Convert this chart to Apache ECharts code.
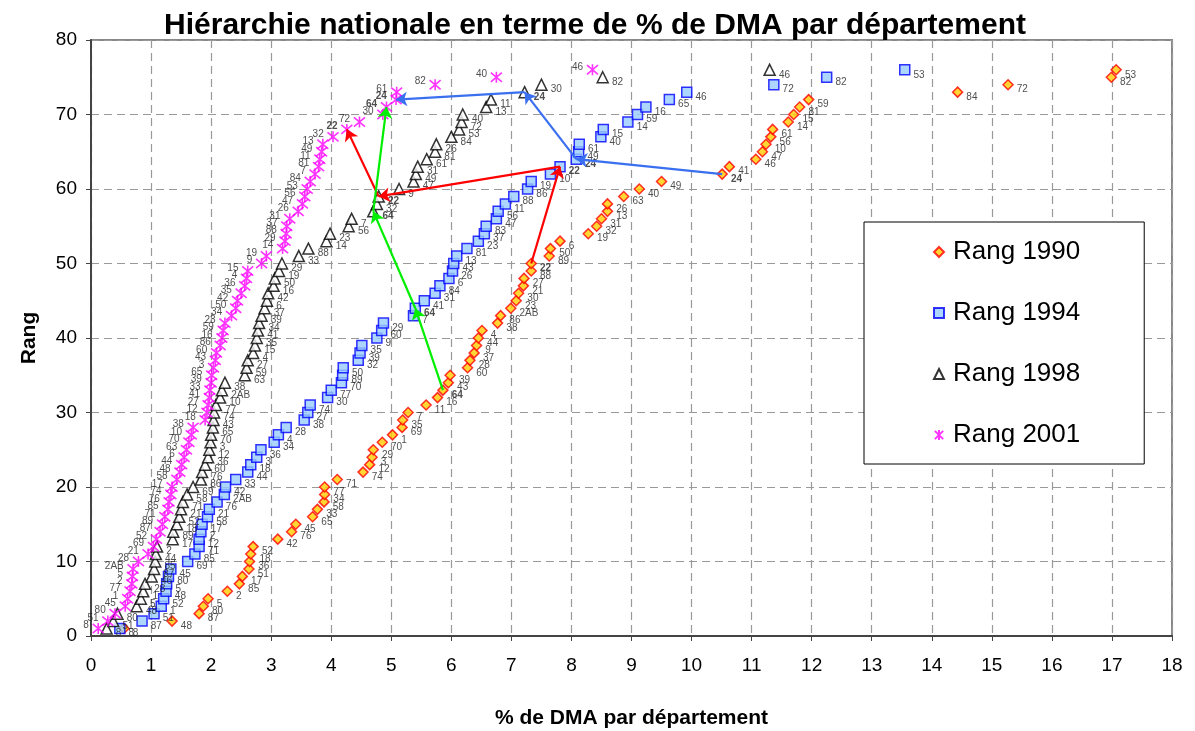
<!DOCTYPE html>
<html>
<head>
<meta charset="utf-8">
<script src="https://cdn.jsdelivr.net/npm/echarts@6/dist/echarts.min.js"></script>
<style>
  html, body { margin: 0; padding: 0; background: #fff; }
  #chart { width: 1195px; height: 731px; }
</style>
</head>
<body>
<div id="chart"></div>
<script>
// rank (y) shared by the four years
const ranks = [1,2,3,4,5,6,7,8,9,10,11,12,13,14,15,16,17,18,19,20,21,22,23,24,25,26,27,28,29,30,31,32,33,34,35,36,37,38,39,40,41,42,43,44,45,46,47,48,49,50,51,52,53,54,55,56,57,58,59,60,61,62,63,64,65,66,67,68,69,70,71,72,73,74,75,76];

// Rang 1990
const dep1990 = ['8','48','87','80','5','2','85','17','51','36','18','52','42','76','45','65','33','58','34','77','71','74','12','3','29','70','1','69','35','7','11','16','64','43','39','60','28','37','9','44','4','38','86','2AB','23','30','21','27','88','22','89','50','6','19','32','31','13','26','63','40','49','24','41','46','47','10','56','61','14','15','81','59','84','72','82','53'];
const pct1990 = [0.55,1.35,1.80,1.87,1.95,2.27,2.47,2.52,2.63,2.64, 2.66,2.70,3.11,3.34,3.41,3.69,3.77,3.88,3.89,3.89, 4.10,4.53,4.64,4.68,4.70,4.85,5.02,5.18,5.19,5.28, 5.58,5.77,5.86,5.95,5.98,6.27,6.31,6.38,6.42,6.45, 6.51,6.77,6.82,6.99,7.08,7.12,7.20,7.21,7.33,7.33, 7.63,7.65,7.81,8.28,8.42,8.50,8.60,8.60,8.87,9.13, 9.50,10.51,10.63,11.07,11.18,11.24,11.32,11.35,11.61,11.70, 11.80,11.95,14.43,15.27,16.99,17.07];

// Rang 1994
const dep1994 = ['8','87','51','1','52','48','5','80','45','69','85','71','12','2','17','58','21','76','2AB','42','33','44','18','3','36','34','4','28','38','27','74','30','77','70','89','50','32','39','35','9','60','29','7','64','41','31','84','6','26','43','13','81','23','37','83','47','56','11','88','86','19','10','22','24','49','61','40','15','14','59','16','65','46','72','82','53'];
const pct1994 = [0.48,0.85,1.05,1.17,1.21,1.25,1.26,1.29,1.33,1.61, 1.73,1.80,1.80,1.83,1.85,1.94,1.97,2.10,2.22,2.24, 2.41,2.61,2.66,2.76,2.83,3.05,3.12,3.25,3.55,3.61, 3.65,3.94,4.00,4.17,4.19,4.20,4.45,4.48,4.51,4.76, 4.84,4.87,5.37,5.40,5.55,5.73,5.81,5.96,6.02,6.04, 6.09,6.26,6.45,6.55,6.58,6.75,6.78,6.90,7.04,7.27, 7.33,7.65,7.81,8.08,8.12,8.13,8.49,8.53,8.94,9.10, 9.24,9.63,9.92,11.37,12.25,13.55];

// Rang 1998
const dep1998 = ['8','51','80','48','5','1','28','46','87','85','44','2','17','89','18','52','21','71','58','69','86','76','60','36','12','3','70','65','43','74','77','10','2AB','38','63','59','27','4','15','35','41','34','39','37','6','42','16','50','19','29','33','88','14','23','56','7','64','32','22','9','47','49','31','61','81','26','84','53','72','40','13','11','24','30','82','46'];
const pct1998 = [0.26,0.37,0.44,0.76,0.83,0.87,0.90,1.01,1.05,1.07, 1.08,1.10,1.36,1.37,1.43,1.47,1.50,1.53,1.60,1.70, 1.83,1.85,1.90,1.95,1.97,1.99,2.00,2.03,2.04,2.05, 2.08,2.15,2.18,2.23,2.56,2.59,2.61,2.70,2.73,2.76, 2.78,2.80,2.84,2.89,2.93,2.95,3.04,3.06,3.13,3.18, 3.46,3.62,3.92,3.98,4.29,4.34,4.70,4.76,4.79,5.13, 5.37,5.41,5.44,5.59,5.73,5.75,6.00,6.13,6.17,6.19, 6.58,6.66,7.22,7.50,8.52,11.30];

// Rang 2001
const dep2001 = ['8','51','80','45','1','77','2','5','2AB','28','21','69','52','87','89','71','85','76','74','17','58','48','44','6','63','70','10','38','18','12','27','41','33','39','65','3','43','60','86','16','59','23','34','50','42','35','36','4','15','9','19','14','29','88','37','31','26','47','56','53','84','7','81','11','49','13','32','22','72','30','64','24','61','82','40','46'];
const pct2001 = [0.12,0.28,0.40,0.57,0.61,0.65,0.68,0.69,0.70,0.79, 0.95,1.04,1.09,1.15,1.19,1.23,1.28,1.30,1.33,1.35, 1.43,1.48,1.51,1.55,1.59,1.63,1.67,1.70,1.90,1.93, 1.95,1.97,1.98,2.00,2.01,2.04,2.07,2.09,2.15,2.18, 2.20,2.23,2.34,2.41,2.44,2.50,2.56,2.59,2.61,2.84, 2.92,3.19,3.23,3.25,3.26,3.31,3.45,3.52,3.56,3.60, 3.65,3.73,3.79,3.81,3.84,3.86,4.03,4.26,4.47,4.86, 4.92,5.08,5.09,5.73,6.75,8.35];

const years = ['Rang 1990', 'Rang 1994', 'Rang 1998', 'Rang 2001'];
const pcts = [pct1990, pct1994, pct1998, pct2001];
const deps = [dep1990, dep1994, dep1998, dep2001];

// departments followed by arrows
const tracked = ['22', '64', '24'];
const trackColors = ['#FF0000', '#00EE00', '#3A6FF0'];

const FONT = 'Liberation Sans, Arial, sans-serif';
const asterisk = 'path://M0,0L10,10M10,0L0,10M5,-1L5,11';

function points(k) {
  return ranks.map((r, i) => {
    const d = deps[k][i];
    const item = { value: [pcts[k][i], r, d] };
    if (tracked.indexOf(d) >= 0) item.label = { fontWeight: 'bold' };
    return item;
  });
}

const styles = [
  { symbol: 'diamond', symbolSize: 10, itemStyle: { color: '#FFCC00', borderColor: '#FF0000', borderWidth: 1.5 } },
  { symbol: 'rect', symbolSize: 10, itemStyle: { color: '#99CCFF', borderColor: '#0000FF', borderWidth: 1.5 } },
  { symbol: 'triangle', symbolSize: 11, itemStyle: { color: '#FFFFFF', borderColor: '#000000', borderWidth: 1.5 } },
  { symbol: asterisk, symbolSize: 11, itemStyle: { color: 'rgba(0,0,0,0)', borderColor: '#FF00FF', borderWidth: 1.6 } }
];

const series = years.map((name, k) => ({
  name: name,
  type: 'scatter',
  symbol: styles[k].symbol,
  symbolSize: styles[k].symbolSize,
  itemStyle: styles[k].itemStyle,
  data: points(k),
  label: {
    show: true,
    formatter: p => p.value[2],
    position: k === 3 ? 'left' : 'right',
    distance: 3,
    offset: k === 3 ? [0, -3] : [0, 5],
    fontSize: 10,
    fontFamily: FONT,
    color: '#222'
  },
  emphasis: { disabled: true },
  z: 2 + k
}));

// arrows 1990 -> 1994 -> 1998 -> 2001 for each tracked department
tracked.forEach((d, t) => {
  const chain = [0, 1, 2, 3].map(k => {
    const i = deps[k].indexOf(d);
    return [pcts[k][i], ranks[i]];
  });
  const segs = [];
  for (let k = 0; k < 3; k++) segs.push({ coords: [chain[k], chain[k + 1]] });
  series.push({
    type: 'lines',
    coordinateSystem: 'cartesian2d',
    data: segs,
    symbol: ['none', 'arrow'],
    symbolSize: 11,
    lineStyle: { color: trackColors[t], width: 2.2, opacity: 1 },
    z: 10
  });
});

const chart = echarts.init(document.getElementById('chart'));
chart.setOption({
  animation: false,
  backgroundColor: '#fff',
  title: {
    text: 'Hiérarchie nationale en terme de % de DMA par département',
    left: 590,
    textAlign: 'center',
    top: 6,
    textStyle: { fontFamily: FONT, fontSize: 30, fontWeight: 'bold', color: '#000' }
  },
  legend: {
    data: years,
    orient: 'vertical',
    left: 864,
    top: 222,
    backgroundColor: '#fff',
    borderColor: '#000',
    borderWidth: 1,
    padding: [17, 64, 16, 69],
    itemGap: 35,
    itemWidth: 10,
    itemHeight: 10,
    textStyle: { fontFamily: FONT, fontSize: 26, color: '#000', padding: [0, 0, 0, 4] }
  },
  grid: {
    left: 91, right: 23, top: 40, bottom: 95,
    outerBoundsMode: 'none',
    containLabel: false,
    show: true, borderColor: '#888', borderWidth: 2
  },
  xAxis: {
    type: 'value',
    min: 0, max: 18, interval: 1,
    name: '% de DMA par département',
    nameLocation: 'middle',
    nameGap: 72,
    nameTextStyle: { fontFamily: FONT, fontSize: 21, fontWeight: 'bold', color: '#000' },
    axisLine: { lineStyle: { color: '#444', width: 2 } },
    axisTick: { lineStyle: { color: '#444' }, length: 5 },
    axisLabel: { fontFamily: FONT, fontSize: 19, color: '#000', margin: 20 },
    splitLine: { lineStyle: { color: '#999', type: [8, 5], width: 1.2 } }
  },
  yAxis: {
    type: 'value',
    min: 0, max: 80, interval: 10,
    name: 'Rang',
    nameLocation: 'middle',
    nameGap: 51,
    nameRotate: 90,
    nameTextStyle: { fontFamily: FONT, fontSize: 21, fontWeight: 'bold', color: '#000' },
    axisLine: { show: true, lineStyle: { color: '#444', width: 2 } },
    axisTick: { show: true, lineStyle: { color: '#444' }, length: 5 },
    axisLabel: { fontFamily: FONT, fontSize: 19, color: '#000', margin: 14 },
    splitLine: { lineStyle: { color: '#999', type: [8, 5], width: 1.2 } }
  },
  series: series
});
</script>
</body>
</html>
